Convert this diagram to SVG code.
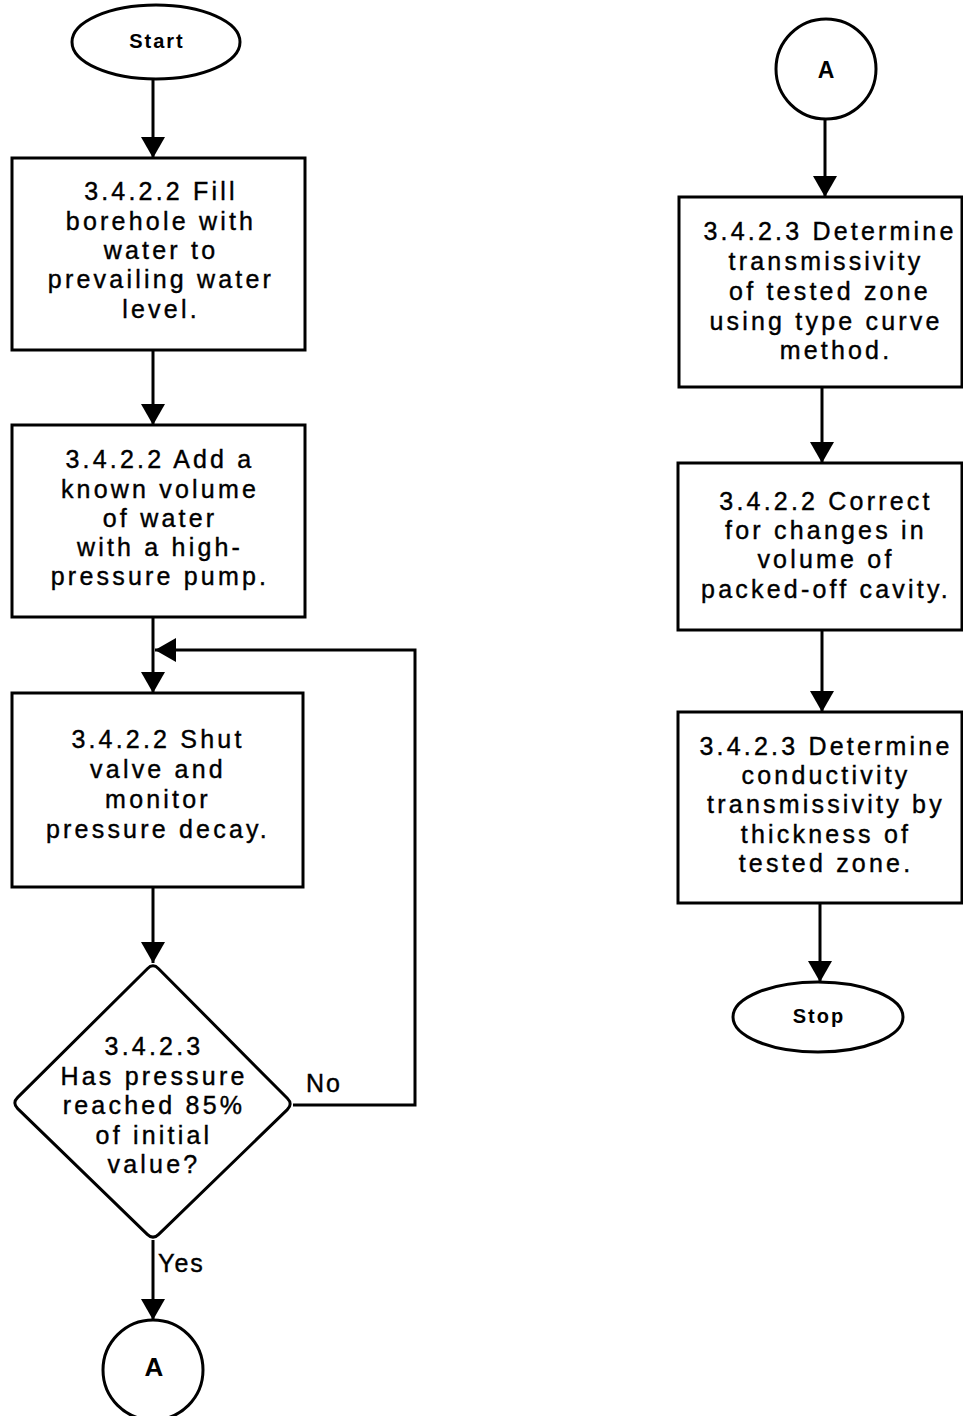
<svg xmlns="http://www.w3.org/2000/svg" width="963" height="1416" viewBox="0 0 963 1416">
<defs>
<style>
.shape{fill:#fff;stroke:#000;stroke-width:3}
.conn{fill:none;stroke:#000;stroke-width:3}
.t{font-family:"Liberation Sans",Arial,sans-serif;font-size:25px;letter-spacing:3.2px;text-anchor:middle;fill:#000;stroke:#000;stroke-width:0.4}
.term{font-family:"Liberation Sans",Arial,sans-serif;font-size:20px;font-weight:bold;letter-spacing:2px;text-anchor:middle;fill:#000}
.conA{font-family:"Liberation Sans",Arial,sans-serif;font-size:26px;font-weight:bold;text-anchor:middle;fill:#000}
.lbl{font-family:"Liberation Sans",Arial,sans-serif;font-size:25px;letter-spacing:2px;fill:#000;stroke:#000;stroke-width:0.4}
</style>
<marker id="ah" markerUnits="userSpaceOnUse" viewBox="-22 -12 23 24" refX="0" refY="0" markerWidth="23" markerHeight="24" orient="auto">
<path d="M0,0 L-21,-12 L-21,12 Z" fill="#000"/>
</marker>
</defs>
<rect width="963" height="1416" fill="#fff"/>

<g id="connectors">
<line class="conn" x1="153" y1="80" x2="153" y2="158" marker-end="url(#ah)"/>
<line class="conn" x1="153" y1="350" x2="153" y2="425" marker-end="url(#ah)"/>
<line class="conn" x1="153" y1="617" x2="153" y2="693" marker-end="url(#ah)"/>
<line class="conn" x1="153" y1="887" x2="153" y2="963" marker-end="url(#ah)"/>
<polyline class="conn" points="293,1105 415,1105 415,650 155,650" marker-end="url(#ah)"/>
<line class="conn" x1="153" y1="1240" x2="153" y2="1320" marker-end="url(#ah)"/>
<line class="conn" x1="825" y1="119" x2="825" y2="197" marker-end="url(#ah)"/>
<line class="conn" x1="822" y1="387" x2="822" y2="463" marker-end="url(#ah)"/>
<line class="conn" x1="822" y1="630" x2="822" y2="712" marker-end="url(#ah)"/>
<line class="conn" x1="820" y1="903" x2="820" y2="982" marker-end="url(#ah)"/>
<text class="lbl" x="306" y="1092">No</text>
<text class="lbl" x="158" y="1272">Yes</text>
</g>

<g id="start">
<ellipse class="shape" cx="156" cy="42" rx="84" ry="37"/>
<text class="term" x="157" y="48">Start</text>
</g>

<g id="fill">
<rect class="shape" x="12" y="158" width="293" height="192"/>
<text class="t" x="161" y="200">3.4.2.2 Fill</text>
<text class="t" x="161" y="230">borehole with</text>
<text class="t" x="161" y="259">water to</text>
<text class="t" x="161" y="288">prevailing water</text>
<text class="t" x="161" y="318">level.</text>
</g>

<g id="add">
<rect class="shape" x="12" y="425" width="293" height="192"/>
<text class="t" x="160" y="468">3.4.2.2 Add a</text>
<text class="t" x="160" y="498">known volume</text>
<text class="t" x="160" y="527">of water</text>
<text class="t" x="160" y="556">with a high-</text>
<text class="t" x="160" y="585">pressure pump.</text>
</g>

<g id="shut">
<rect class="shape" x="12" y="693" width="291" height="194"/>
<text class="t" x="158" y="748">3.4.2.2 Shut</text>
<text class="t" x="158" y="778">valve and</text>
<text class="t" x="158" y="808">monitor</text>
<text class="t" x="158" y="838">pressure decay.</text>
</g>

<g id="decision">
<path class="shape" d="M147.4 968.7 Q153 963 158.6 968.7 L287.3 1098.3 Q293 1104 287.3 1109.6 L158.7 1234.4 Q153 1240 147.3 1234.4 L17.7 1108.6 Q12 1103 17.7 1097.4 Z"/>
<text class="t" x="154" y="1055">3.4.2.3</text>
<text class="t" x="154" y="1085">Has pressure</text>
<text class="t" x="154" y="1114">reached 85%</text>
<text class="t" x="154" y="1144">of initial</text>
<text class="t" x="154" y="1173">value?</text>
</g>

<g id="connectorA1">
<circle class="shape" cx="153" cy="1370" r="50"/>
<text class="conA" x="154" y="1376">A</text>
</g>

<g id="connectorA2">
<circle class="shape" cx="826" cy="69" r="50"/>
<text class="conA" x="826" y="78" style="font-size:23px">A</text>
</g>

<g id="transmissivity">
<rect class="shape" x="679" y="197" width="283" height="190"/>
<text class="t" x="830" y="240">3.4.2.3 Determine</text>
<text class="t" x="826" y="270">transmissivity</text>
<text class="t" x="830" y="300">of tested zone</text>
<text class="t" x="826" y="330">using type curve</text>
<text class="t" x="836" y="359">method.</text>
</g>

<g id="correct">
<rect class="shape" x="678" y="463" width="284" height="167"/>
<text class="t" x="826" y="510">3.4.2.2 Correct</text>
<text class="t" x="826" y="539">for changes in</text>
<text class="t" x="826" y="568">volume of</text>
<text class="t" x="826" y="598">packed-off cavity.</text>
</g>

<g id="conductivity">
<rect class="shape" x="678" y="712" width="284" height="191"/>
<text class="t" x="826" y="755">3.4.2.3 Determine</text>
<text class="t" x="826" y="784">conductivity</text>
<text class="t" x="826" y="813">transmissivity by</text>
<text class="t" x="826" y="843">thickness of</text>
<text class="t" x="826" y="872">tested zone.</text>
</g>

<g id="stop">
<ellipse class="shape" cx="818" cy="1017" rx="85" ry="35"/>
<text class="term" x="819" y="1023">Stop</text>
</g>
</svg>
